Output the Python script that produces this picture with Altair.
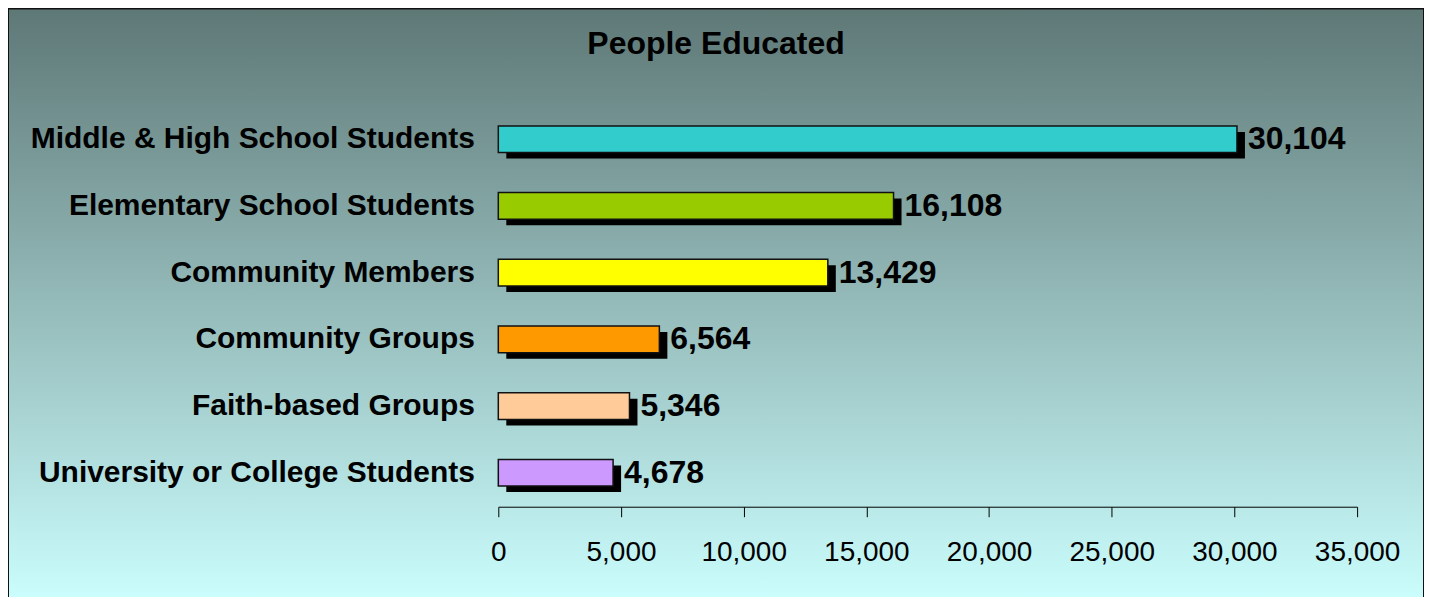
import altair as alt
import pandas as pd

categories = [
    "Middle & High School Students",
    "Elementary School Students",
    "Community Members",
    "Community Groups",
    "Faith-based Groups",
    "University or College Students",
]
values = [30104, 16108, 13429, 6564, 5346, 4678]
colors = ["#33CCCC", "#99CC00", "#FFFF00", "#FF9900", "#FFCC99", "#CC99FF"]
x_ticks = [0, 5000, 10000, 15000, 20000, 25000, 30000, 35000]

df = pd.DataFrame({"category": categories, "value": values, "color": colors})

W, H = 1418, 600
FONT = "Liberation Sans"

x_scale = alt.Scale(domain=[0, 35000], range=[491, 1351], nice=False)
y_scale = alt.Scale(range=[97.6, 498.4], paddingInner=0.6, paddingOuter=0.3)

x_enc = alt.X(
    "value:Q",
    scale=x_scale,
    axis=alt.Axis(
        values=x_ticks,
        format=",.0f",
        title=None,
        grid=False,
        offset=-101,
        zindex=1,
        domainColor="black",
        domainWidth=1,
        tickColor="black",
        tickSize=10,
        tickWidth=1,
        labelFont=FONT,
        labelFontSize=28,
        labelColor="black",
        labelPadding=22,
        labelOverlap=False,
        labelFlush=False,
    ),
)
y_enc = alt.Y(
    "category:N",
    sort=categories,
    scale=y_scale,
    axis=alt.Axis(
        title=None,
        domain=False,
        ticks=False,
        tickSize=0,
        grid=False,
        offset=-491,
        zindex=1,
        labelFont=FONT,
        labelFontSize=30,
        labelFontWeight="bold",
        labelColor="black",
        labelPadding=24,
        labelLimit=800,
    ),
)

gradient = alt.LinearGradient(
    gradient="linear",
    stops=[
        alt.GradientStop(color="#5E7876", offset=0),
        alt.GradientStop(color="#CCFFFF", offset=1),
    ],
    x1=0, x2=0, y1=0, y2=1,
)

bg = alt.Chart(pd.DataFrame({"bg": [0]})).mark_rect(
    fill=gradient, stroke="#111111", strokeWidth=2
).encode(x=alt.value(0), x2=alt.value(W), y=alt.value(0), y2=alt.value(H))

base = alt.Chart(df)

shadow = base.mark_bar(color="black", xOffset=8, x2Offset=4, yOffset=6).encode(
    x=x_enc, y=y_enc
)
bars = base.mark_bar(stroke="#111111", strokeWidth=1.5).encode(
    x=x_enc,
    y=y_enc,
    color=alt.Color("color:N", scale=None),
)
labels = base.mark_text(
    align="left", baseline="middle", dx=11, font=FONT, fontSize=32,
    fontWeight="bold", color="black",
).encode(x=x_enc, y=y_enc, text=alt.Text("value:Q", format=","))

chart = (
    alt.layer(bg, shadow, bars, labels)
    .properties(
        width=W,
        height=H,
        padding=0,
        autosize=alt.AutoSizeParams(type="none"),
        title=alt.TitleParams(
            "People Educated",
            font=FONT,
            fontSize=32,
            fontWeight="bold",
            color="black",
            anchor="middle",
            baseline="alphabetic",
            offset=-79,
        ),
    )
    .configure_view(stroke=None)
)

chart.save("out.html", embed_options={"renderer": "svg", "actions": False})
